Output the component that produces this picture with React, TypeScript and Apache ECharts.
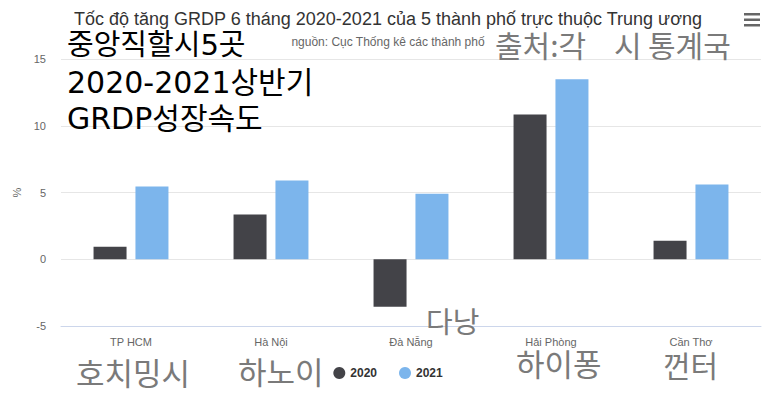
import React, { useEffect, useRef } from "react";
import * as echarts from "echarts";

const categories = ["TP HCM", "Hà Nội", "Đà Nẵng", "Hải Phòng", "Cần Thơ"];
const values2020 = [0.93, 3.35, -3.56, 10.85, 1.38];
const values2021 = [5.45, 5.89, 4.9, 13.48, 5.59];
const yTicks = [-5, 0, 5, 10, 15];

const KR = "'Noto Sans CJK KR', 'Noto Sans', sans-serif";
const MIXED = "'DejaVu Sans', 'Noto Sans CJK KR', sans-serif";
const BASE = "'Liberation Sans', Arial, Helvetica, sans-serif";

export default function App() {
  const ref = useRef<HTMLDivElement>(null);
  useEffect(() => {
    document.body.style.margin = "0";
    if (!ref.current) return;
    const chart = echarts.init(ref.current, undefined, { renderer: "svg" });
    const grayKr = (text: string, x: number, y: number, size = 30) => ({
      type: "text",
      x,
      y,
      silent: true,
      z: 100,
      style: {
        text,
        fill: "#7a7a7a",
        font: `${size}px ${KR}`,
        textVerticalAlign: "middle",
      },
    });
    const blackKr = (text: string, x: number, y: number, size = 29) => ({
      type: "text",
      x,
      y,
      silent: true,
      z: 100,
      style: {
        text,
        fill: "#000",
        font: `${size}px ${MIXED}`,
        textVerticalAlign: "middle",
      },
    });
    chart.setOption({
      animation: false,
      backgroundColor: "#fff",
      title: [
        {
          text: "Tốc độ tăng GRDP 6 tháng 2020-2021 của 5 thành phố trực thuộc Trung ương",
          left: "center",
          top: 5,
          textStyle: { fontFamily: BASE, fontSize: 18, fontWeight: "normal", color: "#333" },
        },
        {
          text: "nguồn: Cục Thống kê các thành phố",
          left: "center",
          top: 31,
          textStyle: { fontFamily: BASE, fontSize: 12, fontWeight: "normal", color: "#666" },
        },
      ],
      legend: {
        bottom: 14,
        left: "center",
        itemGap: 22,
        icon: "circle",
        itemWidth: 12,
        itemHeight: 12,
        textStyle: { fontFamily: BASE, fontSize: 12, fontWeight: "bold", color: "#333" },
        data: ["2020", "2021"],
      },
      grid: { left: 61, right: 15, top: 59, bottom: 72 },
      xAxis: {
        type: "category",
        data: categories,
        axisLine: { onZero: false, lineStyle: { color: "#ccd6eb" } },
        axisTick: { show: false },
        axisLabel: { fontFamily: BASE, fontSize: 11, color: "#666", margin: 10 },
      },
      yAxis: {
        type: "value",
        min: yTicks[0],
        max: yTicks[yTicks.length - 1],
        interval: 5,
        name: "%",
        nameLocation: "middle",
        nameGap: 33,
        nameTextStyle: { fontFamily: BASE, fontSize: 11, color: "#666" },
        axisLine: { show: false },
        axisTick: { show: false },
        axisLabel: { fontFamily: BASE, fontSize: 11, color: "#666", margin: 15 },
        splitLine: { lineStyle: { color: "#e6e6e6" } },
      },
      series: [
        {
          name: "2020",
          type: "bar",
          data: values2020,
          barWidth: 33,
          barGap: "27%",
          itemStyle: { color: "#434348" },
        },
        {
          name: "2021",
          type: "bar",
          data: values2021,
          barWidth: 33,
          itemStyle: { color: "#7cb5ec" },
        },
      ],
      graphic: [
        { type: "rect", shape: { x: 744, y: 13, width: 16, height: 2.5 }, style: { fill: "#666" } },
        { type: "rect", shape: { x: 744, y: 18.5, width: 16, height: 2.5 }, style: { fill: "#666" } },
        { type: "rect", shape: { x: 744, y: 24, width: 16, height: 2.5 }, style: { fill: "#666" } },
        blackKr("중앙직할시5곳", 67, 45),
        blackKr("2020-2021상반기", 67, 82, 30),
        blackKr("GRDP성장속도", 67, 118, 30),
        grayKr("출처:각", 495, 44),
        grayKr("시", 614, 44),
        grayKr("통계국", 648, 44),
        grayKr("다낭", 426, 320, 29),
        grayKr("호치밍시", 76, 371, 31),
        grayKr("하노이", 238, 370, 31),
        grayKr("하이퐁", 516, 362, 31),
        grayKr("껀터", 663, 364),
      ],
    });
    return () => chart.dispose();
  }, []);
  return <div ref={ref} style={{ width: 776, height: 398 }} />;
}
